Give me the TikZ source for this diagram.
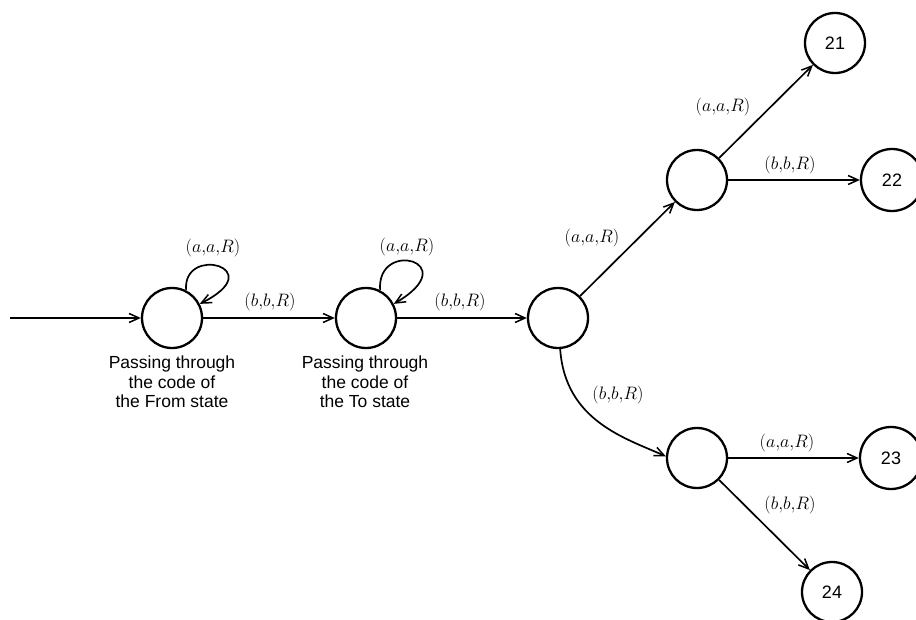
\RequirePackage{fix-cm}
\documentclass[tikz,border=0pt]{standalone}
\usepackage{fontspec}
\setsansfont{Liberation Sans}
\usetikzlibrary{arrows.meta}
\begin{document}
\begin{tikzpicture}[x=1pt,y=-1pt,
  st/.style={circle,draw,line width=2.3pt,minimum size=60pt,inner sep=0pt,
    font=\sffamily\fontsize{18}{20}\selectfont},
  arr/.style={line width=1.7pt,-{Straight Barb[length=10pt,width=9pt,line width=1.5pt]}},
  lab/.style={font=\fontsize{18}{20}\selectfont,inner sep=1pt},
  captxt/.style={font=\sffamily\fontsize{17.5}{19.5}\selectfont,align=center,inner sep=0pt}]
\useasboundingbox (0,0) rectangle (916,620);
\fill[white] (0,0) rectangle (916,620);
% states
\node[st] (c1) at (172,318) {};
\node[st] (c2) at (366,318) {};
\node[st] (c3) at (558,318) {};
\node[st] (nA) at (697,180) {};
\node[st] (nB) at (697,458) {};
\node[st] (n21) at (835,43) {21};
\node[st,minimum size=62pt] (n22) at (892,180) {22};
\node[st,minimum size=62pt] (n23) at (891,458) {23};
\node[st] (n24) at (832,592) {24};
\coordinate (start) at (10,318);
% connectors
\draw[arr] (start) -- (c1);
\draw[arr] (c1) -- (c2);
\draw[arr] (c2) -- (c3);
\draw[arr] (c3) -- (nA);
\draw[arr] (nA) -- (n21);
\draw[arr] (nA) -- (n22);
\draw[arr] (nB) -- (n23);
\draw[arr] (nB) -- (n24);
\draw[arr] (c3.-86) .. controls +(5,72) and +(-40,-18) .. (nB.177);
\draw[arr] (c1.63) .. controls +(-4,-46) and +(72,-36) .. (c1.27);
\draw[arr] (c2.63) .. controls +(-4,-52) and +(72,-42) .. (c2.27);
% labels
\node[lab] (l1) at (213,248) {$(a{,}a{,}R)$};
\node[lab] (l2) at (407,247) {$(a{,}a{,}R)$};
\node[lab] (l3) at (270,302) {$(b{,}b{,}R)$};
\node[lab] (l4) at (460,302) {$(b{,}b{,}R)$};
\node[lab] (l5) at (592,238) {$(a{,}a{,}R)$};
\node[lab] (l6) at (618,395) {$(b{,}b{,}R)$};
\node[lab] (l7) at (723,107) {$(a{,}a{,}R)$};
\node[lab] (l8) at (790,165) {$(b{,}b{,}R)$};
\node[lab] (l9) at (787,443) {$(a{,}a{,}R)$};
\node[lab] (l10) at (790,505) {$(b{,}b{,}R)$};
% captions
\node[captxt] (t1) at (172,382) {Passing through\\the code of\\the From state};
\node[captxt] (t2) at (365,382) {Passing through\\the code of\\the To state};
\end{tikzpicture}
\end{document}
